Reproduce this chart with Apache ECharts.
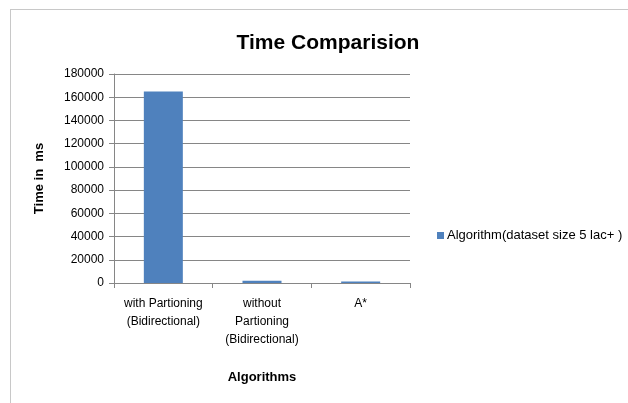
<!DOCTYPE html>
<html lang="en">
<head>
    <meta charset="UTF-8">
    <title>Time Comparision</title>
    <script src="https://cdn.jsdelivr.net/npm/echarts@6/dist/echarts.min.js"></script>
    <style>
        body { margin: 0; background: #fff; }
        #frame { position: absolute; left: 10px; top: 9px; width: 640px; height: 420px;
                 border-left: 1px solid #c8c8c8; border-top: 1px solid #c8c8c8; }
    </style>
</head>
<body>
    <div id="frame"></div>
    <div id="main" style="position:absolute;left:0;top:0;width:628px;height:403px;"></div>
    <script type="text/javascript">
        // 類別
        var categories = ['with Partioning\n(Bidirectional)', 'without\nPartioning\n(Bidirectional)', 'A*'];
        // 數值 (ms)
        var timeValues = [165000, 2000, 1200];
        var seriesName = 'Algorithm(dataset size 5 lac+ )';

        var fontFam = '"Liberation Sans", Arial, sans-serif';
        var myChart = echarts.init(document.getElementById('main'));

        var option = {
            backgroundColor: 'transparent',
            animation: false,
            title: {
                text: 'Time Comparision',
                left: 323,
                textAlign: 'center',
                top: 28,
                textStyle: { fontFamily: fontFam, fontSize: 21, fontWeight: 'bold', color: '#000' }
            },
            legend: {
                left: 432,
                top: 224,
                itemWidth: 7,
                itemHeight: 7,
                itemGap: 4,
                icon: 'rect',
                textStyle: { fontFamily: fontFam, fontSize: 13, color: '#000', padding: [0, 0, 0, -2] },
                data: [seriesName]
            },
            grid: { left: 114, right: 218, top: 74, bottom: 120, containLabel: false },
            xAxis: {
                type: 'category',
                data: categories,
                name: 'Algorithms',
                nameLocation: 'middle',
                nameGap: 88,
                nameTextStyle: { fontFamily: fontFam, fontSize: 13, fontWeight: 'bold', color: '#000' },
                axisLine: { lineStyle: { color: '#868686' } },
                axisTick: { show: true, length: 5, lineStyle: { color: '#868686' } },
                axisLabel: { interval: 0, margin: 12, lineHeight: 18, fontFamily: fontFam, fontSize: 12, color: '#000' }
            },
            yAxis: {
                type: 'value',
                min: 0,
                max: 180000,
                interval: 20000,
                name: 'Time in  ms',
                nameLocation: 'middle',
                nameRotate: 90,
                nameGap: 68,
                nameTextStyle: { fontFamily: fontFam, fontSize: 13, fontWeight: 'bold', color: '#000' },
                axisLine: { show: true, lineStyle: { color: '#868686' } },
                axisTick: { show: true, length: 5, lineStyle: { color: '#868686' } },
                splitLine: { lineStyle: { color: '#868686' } },
                axisLabel: {
                    margin: 10, fontFamily: fontFam, fontSize: 12, color: '#000',
                    formatter: function (v) { return String(v); }
                }
            },
            series: [{
                name: seriesName,
                type: 'bar',
                data: timeValues,
                barWidth: 39,
                itemStyle: { color: '#4f81bd' }
            }]
        };

        myChart.setOption(option);
    </script>
</body>
</html>
